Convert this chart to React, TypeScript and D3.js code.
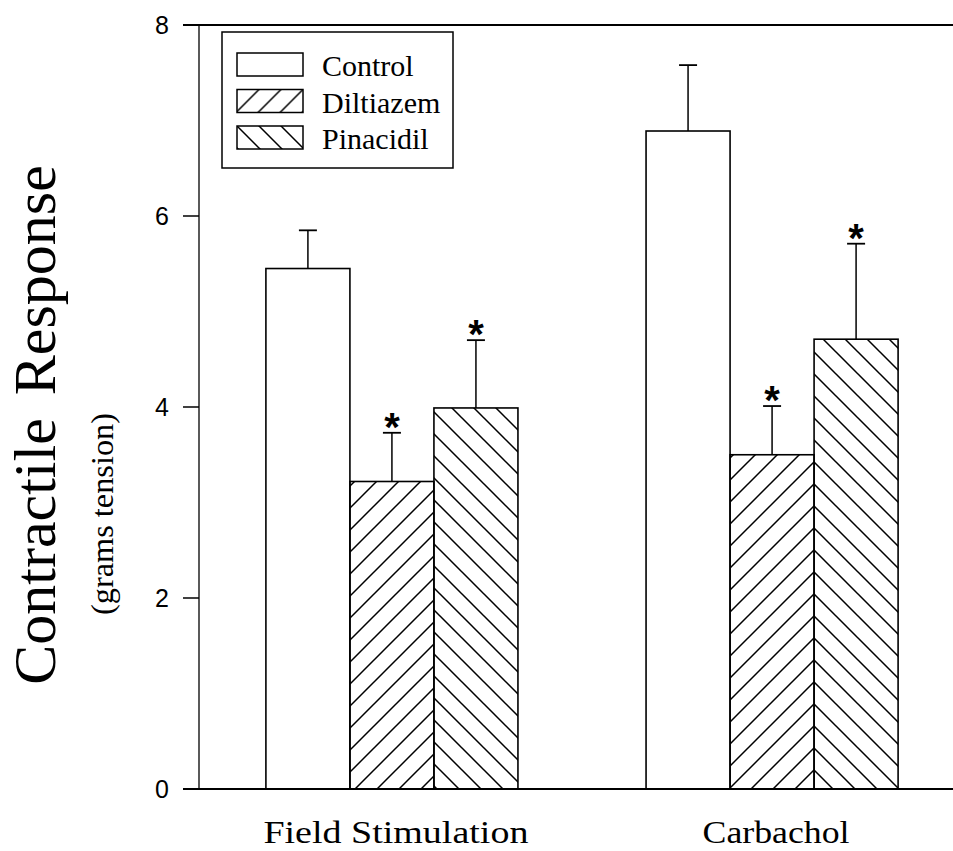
import React from 'react';
import * as d3 from 'd3';

const WIDTH = 953;
const HEIGHT = 851;

// data
const groups = ['Field Stimulation', 'Carbachol'];
const seriesNames = ['Control', 'Diltiazem', 'Pinacidil'];
const controlMean = [5.45, 6.89];
const controlErr = [0.40, 0.69];
const diltiazemMean = [3.22, 3.50];
const diltiazemErr = [0.51, 0.51];
const pinacidilMean = [3.99, 4.71];
const pinacidilErr = [0.71, 1.00];
const significant = [[false, false], [true, true], [true, true]];
const yTicks = [0, 2, 4, 6, 8];

const means = [controlMean, diltiazemMean, pinacidilMean];
const errs = [controlErr, diltiazemErr, pinacidilErr];
const fills = ['#fff', 'url(#hatchUp)', 'url(#hatchDown)'];

const SERIF = '"Liberation Serif", "Times New Roman", serif';
const SANS = '"Liberation Sans", Arial, sans-serif';

const AXIS_X = 199;
const y = d3.scaleLinear().domain([0, 8]).range([789, 25]);
const x0 = d3.scaleBand()
    .domain(groups)
    .range([AXIS_X, 965])
    .paddingInner(0.337)
    .paddingOuter(0.176);
const x1 = d3.scaleBand()
    .domain(seriesNames)
    .range([0, x0.bandwidth()]);

const App = () => {
    const rows = [];
    seriesNames.forEach((s, si) => {
        groups.forEach((g, gi) => {
            rows.push({ s, si, g, gi, v: means[si][gi], e: errs[si][gi], sig: significant[si][gi] });
        });
    });

    return (
        <svg width={WIDTH} height={HEIGHT} style={{ position: 'absolute', left: 0, top: 0, background: '#fff' }}>
            <defs>
                <pattern id="hatchUp" patternUnits="userSpaceOnUse" width="22" height="22">
                    <path d="M0,22 L22,0 M-11,11 L11,-11 M11,33 L33,11" stroke="#000" strokeWidth="1.5" />
                </pattern>
                <pattern id="hatchDown" patternUnits="userSpaceOnUse" width="22" height="22">
                    <path d="M0,0 L22,22 M-11,11 L11,33 M11,-11 L33,11" stroke="#000" strokeWidth="1.5" />
                </pattern>
            </defs>
            <rect width={WIDTH} height={HEIGHT} fill="#fff" />

            {/* bars */}
            {rows.map((d) => {
                const bx = x0(d.g) + x1(d.s);
                return (
                    <rect key={`bar-${d.si}-${d.gi}`}
                        x={bx} y={y(d.v)} width={x1.bandwidth()} height={y(0) - y(d.v)}
                        fill={fills[d.si]} stroke="#000" strokeWidth="1.6" />
                );
            })}

            {/* error bars + stars */}
            {rows.map((d) => {
                const cx = x0(d.g) + x1(d.s) + x1.bandwidth() / 2;
                const top = y(d.v + d.e);
                return (
                    <g key={`err-${d.si}-${d.gi}`}>
                        <line x1={cx} x2={cx} y1={y(d.v)} y2={top} stroke="#000" strokeWidth="1.5" />
                        <line x1={cx - 9} x2={cx + 9} y1={top} y2={top} stroke="#000" strokeWidth="1.8" />
                        {d.sig && (
                            <text x={cx} y={top + 8} textAnchor="middle" fontFamily={SANS}
                                fontWeight="bold" fontSize="40">*</text>
                        )}
                    </g>
                );
            })}

            {/* axes */}
            <line x1={AXIS_X} x2={AXIS_X} y1={y(8)} y2={y(0)} stroke="#000" strokeWidth="1.3" />
            <line x1={183} x2={WIDTH} y1={y(0)} y2={y(0)} stroke="#000" strokeWidth="2" />
            <line x1={183} x2={WIDTH} y1={y(8)} y2={y(8)} stroke="#000" strokeWidth="1.8" />
            {yTicks.map((t) => (
                <g key={`tick-${t}`}>
                    <line x1={183} x2={AXIS_X} y1={y(t)} y2={y(t)} stroke="#000" strokeWidth="1.5" />
                    <text x={169} y={y(t) + 9} textAnchor="end" fontFamily={SANS} fontSize="25">{t}</text>
                </g>
            ))}

            {/* group labels */}
            {groups.map((g) => (
                <text key={g} x={x0(g) + x0.bandwidth() / 2 + 4} y={843} textAnchor="middle"
                    fontFamily={SERIF} fontSize="31"
                    textLength={g === 'Field Stimulation' ? 265 : 147} lengthAdjust="spacingAndGlyphs">{g}</text>
            ))}

            {/* y titles */}
            <text transform="translate(55,425) rotate(-90)" textAnchor="middle" fontFamily={SERIF}
                fontSize="60" wordSpacing="8">Contractile Response</text>
            <text transform="translate(113,514) rotate(-90)" textAnchor="middle" fontFamily={SERIF}
                fontSize="32" textLength="202" lengthAdjust="spacingAndGlyphs">(grams tension)</text>

            {/* legend */}
            <rect x={222} y={32} width={231} height={136} fill="#fff" stroke="#000" strokeWidth="1.5" />
            {seriesNames.map((s, i) => (
                <g key={`leg-${s}`} transform={`translate(237, ${53 + i * 36.5})`}>
                    <rect width={66} height={23} fill={fills[i]} stroke="#000" strokeWidth="1.5" />
                    <text x={85} y={23} fontFamily={SERIF} fontSize="30">{s}</text>
                </g>
            ))}
        </svg>
    );
};

export default App;
